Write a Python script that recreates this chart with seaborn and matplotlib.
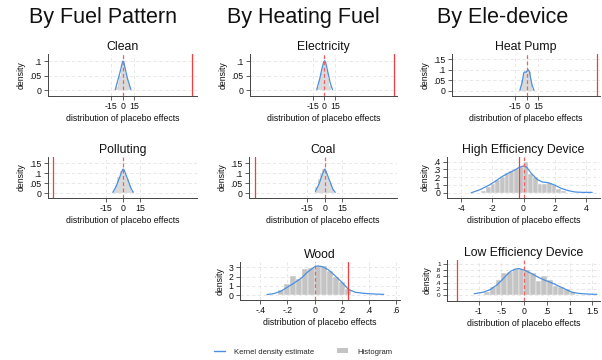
import numpy as np
import pandas as pd
import matplotlib
matplotlib.use("Agg")
import matplotlib.pyplot as plt
from matplotlib.lines import Line2D
from matplotlib.patches import Patch
import seaborn as sns

sns.set_theme(style="white")
plt.rcParams['font.family'] = ['Liberation Sans', 'DejaVu Sans']

# ---------------- data ----------------
column_titles = ["By Fuel Pattern", "By Heating Fuel", "By Ele-device"]

# Clean
clean_edges = [-9, -7, -5, -3, -1, 1, 3, 5, 7, 9]
clean_hist = [0.01, 0.03, 0.05, 0.07, 0.095, 0.09, 0.06, 0.04, 0.02]
clean_kx = [-10, -6, -3, -1, 0, 1, 3, 6, 10.5]
clean_ky = [0.002, 0.04, 0.07, 0.092, 0.1, 0.098, 0.075, 0.04, 0.002]
clean_actual = 91

# Polluting
poll_edges = [-9, -7, -5, -3, -1, 1, 3, 5, 7, 9]
poll_hist = [0.01, 0.04, 0.08, 0.11, 0.12, 0.1, 0.07, 0.04, 0.01]
poll_kx = [-9, -6, -3, -1, 0, 1, 3, 5, 7, 9]
poll_ky = [0.005, 0.035, 0.08, 0.11, 0.12, 0.115, 0.085, 0.055, 0.025, 0.005]
poll_actual = -62

# Electricity
elec_edges = [-9, -7, -5, -3, -1, 1, 3, 5, 7, 9]
elec_hist = [0.01, 0.035, 0.06, 0.08, 0.1, 0.095, 0.07, 0.04, 0.015]
elec_kx = [-10, -6, -3, -1, 0.5, 2, 5, 8, 11]
elec_ky = [0.002, 0.04, 0.075, 0.095, 0.102, 0.095, 0.06, 0.025, 0.002]
elec_actual = 93

# Coal
coal_edges = [-8, -6, -4, -2, 0, 2, 4, 6, 8]
coal_hist = [0.03, 0.07, 0.1, 0.12, 0.11, 0.08, 0.05, 0.02]
coal_kx = [-8, -5, -2, -0.5, 0, 1, 3, 5, 7, 9]
coal_ky = [0.01, 0.045, 0.095, 0.115, 0.12, 0.11, 0.08, 0.05, 0.02, 0.005]
coal_actual = -60

# Wood
wood_edges = [-0.27, -0.225, -0.18, -0.135, -0.09, -0.045, 0, 0.045, 0.09, 0.135, 0.18, 0.225, 0.27]
wood_hist = [0.5, 1.2, 2.1, 1.7, 2.8, 2.9, 3.1, 3.1, 2.6, 1.9, 1.4, 0.7]
wood_kx = [-0.35, -0.3, -0.25, -0.2, -0.15, -0.1, -0.05, 0, 0.025, 0.06, 0.1, 0.15, 0.2, 0.25, 0.3, 0.35, 0.4, 0.45, 0.51]
wood_ky = [0.05, 0.15, 0.4, 0.85, 1.3, 1.8, 2.5, 3.05, 3.15, 3.05, 2.75, 2.1, 1.4, 0.6, 0.3, 0.2, 0.14, 0.1, 0.07]
wood_actual = 0.25

# Heat Pump
hp_edges = [-9, -7, -5, -3, -1, 1, 3, 5, 7, 9]
hp_hist = [0.01, 0.05, 0.085, 0.09, 0.09, 0.1, 0.09, 0.05, 0.01]
hp_kx = [-9, -6, -4, -2.5, -1, 0.5, 2, 3.5, 5, 7, 9.5]
hp_ky = [0.002, 0.04, 0.085, 0.09, 0.088, 0.095, 0.1, 0.09, 0.06, 0.025, 0.002]
hp_actual = 91

# High Efficiency Device
hi_edges = [-2.7, -2.4, -2.1, -1.8, -1.5, -1.2, -0.9, -0.6, -0.3, 0, 0.3, 0.6, 0.9, 1.2, 1.5, 1.8, 2.1, 2.4, 2.7]
hi_hist = [0.03, 0.08, 0.12, 0.17, 0.2, 0.26, 0.28, 0.3, 0.33, 0.4, 0.24, 0.2, 0.12, 0.12, 0.13, 0.1, 0.05, 0.02]
hi_kx = [-3.35, -2.8, -2.2, -1.8, -1.45, -1.1, -0.8, -0.5, -0.25, 0, 0.2, 0.5, 0.9, 1.2, 1.6, 2, 2.4, 2.85, 3.3, 3.8, 4.4]
hi_ky = [0.002, 0.04, 0.1, 0.15, 0.2, 0.24, 0.27, 0.3, 0.33, 0.345, 0.33, 0.25, 0.17, 0.14, 0.13, 0.1, 0.06, 0.03, 0.012, 0.007, 0.007]
hi_actual = -0.3

# Low Efficiency Device
lo_edges = [-0.875, -0.75, -0.625, -0.5, -0.375, -0.25, -0.125, 0, 0.125, 0.25, 0.375, 0.5, 0.625, 0.75, 0.875, 1.0, 1.125]
lo_hist = [0.1, 0.25, 0.5, 0.7, 0.75, 0.85, 0.85, 0.8, 0.7, 0.45, 0.6, 0.5, 0.3, 0.25, 0.2, 0.1]
lo_kx = [-1.1, -0.9, -0.75, -0.6, -0.5, -0.4, -0.3, -0.2, -0.12, 0, 0.15, 0.3, 0.45, 0.6, 0.75, 0.9, 1.05, 1.2, 1.4, 1.6]
lo_ky = [0.05, 0.1, 0.18, 0.33, 0.47, 0.62, 0.76, 0.83, 0.85, 0.8, 0.7, 0.58, 0.48, 0.4, 0.3, 0.2, 0.1, 0.06, 0.04, 0.03]
lo_actual = -1.48

# tick values
big_xticks = [-15, 0, 15]
xt_hi = [-4, -2, 0, 2, 4]
xt_wood = [-0.4, -0.2, 0, 0.2, 0.4, 0.6]
xt_lo = [-1, -0.5, 0, 0.5, 1, 1.5]
yt_small = [0, 0.05, 0.1]
yt_mid = [0, 0.05, 0.1, 0.15]
yt_hi = [0, 0.1, 0.2, 0.3, 0.4]
yt_wood = [0, 1, 2, 3]
yt_lo = [0, 0.2, 0.4, 0.6, 0.8, 1]

# ---------------- styling ----------------
W, H = 602, 360
BLUE = "#4a90e2"
GREY = "#c4c4c4"
GREY_LIGHT = "#dadada"
RED = "#f53b3b"
RED_D = "#f26060"
AX_C = "#444444"
TICK_FS = 6.3

fig = plt.figure(figsize=(W / 100, H / 100), dpi=100)
fig.patch.set_facecolor("white")


def stata_fmt(v):
    if v == 0:
        return "0"
    s = ("%g" % v)
    if s.startswith("0."):
        s = s[1:]
    elif s.startswith("-0."):
        s = "-" + s[2:]
    return s


def panel(l, t, r, b, title, edges, hist, kx, ky, actual, xlim, ylim, xticks, yticks,
          small=False, ytick_fs=TICK_FS):
    ax = fig.add_axes([l / W, 1 - b / H, (r - l) / W, (b - t) / H])
    centers = [(edges[i] + edges[i + 1]) / 2 for i in range(len(hist))]
    df = pd.DataFrame({"x": centers, "w": hist})
    if small:
        sns.histplot(data=df, x="x", weights="w", bins=edges, ax=ax, color=GREY_LIGHT,
                     edgecolor="none", linewidth=0, alpha=1, zorder=2)
    else:
        sns.histplot(data=df, x="x", weights="w", bins=edges, ax=ax, color=GREY,
                     edgecolor="white", linewidth=0.3, alpha=1, zorder=2)
    kd = pd.DataFrame({"x": kx, "y": ky})
    sns.lineplot(data=kd, x="x", y="y", ax=ax, color=BLUE, lw=0.9, zorder=4)
    ax.axvline(0, color=RED_D, lw=0.9, ls=(0, (3, 2)), zorder=5)
    ax.axvline(actual, color=RED, lw=0.9, zorder=5)
    ax.set_xlim(*xlim)
    ax.set_ylim(*ylim)
    ax.set_xticks(xticks)
    ax.set_yticks(yticks)
    ax.set_xticklabels([stata_fmt(v) for v in xticks], fontsize=TICK_FS)
    ax.set_yticklabels([stata_fmt(v) for v in yticks], fontsize=ytick_fs)
    ax.grid(True, color="#e4e4e4", ls=(0, (4, 3)), lw=0.6, zorder=0)
    ax.set_axisbelow(True)
    for s in ["top", "right"]:
        ax.spines[s].set_visible(False)
    for s in ["left", "bottom"]:
        ax.spines[s].set_color(AX_C)
        ax.spines[s].set_linewidth(0.7)
    ax.tick_params(axis="both", direction="out", length=3, width=0.6, color=AX_C,
                   pad=1.5, labelcolor="#111111", left=True, bottom=True)
    ax.set_title(title, fontsize=8.8, pad=3, color="#111111")
    ax.set_xlabel("distribution of placebo effects", fontsize=6.3, labelpad=2, color="#111111")
    ax.set_ylabel("density", fontsize=6.3, labelpad=3, color="#111111")
    ax.set_facecolor("white")
    return ax


panel(48, 54, 197, 96, "Clean", clean_edges, clean_hist, clean_kx, clean_ky, clean_actual,
      (-98, 97), (-0.02, 0.125), big_xticks, yt_small, small=True)
panel(250, 54, 397, 96, "Electricity", elec_edges, elec_hist, elec_kx, elec_ky, elec_actual,
      (-99, 97), (-0.02, 0.125), big_xticks, yt_small, small=True)
panel(452, 54, 600, 96, "Heat Pump", hp_edges, hp_hist, hp_kx, hp_ky, hp_actual,
      (-97, 95), (-0.025, 0.175), big_xticks, yt_mid, small=True)
panel(48, 157, 197, 198, "Polluting", poll_edges, poll_hist, poll_kx, poll_ky, poll_actual,
      (-66, 65), (-0.023, 0.18), big_xticks, yt_mid, small=True)
panel(249, 157, 397, 198, "Coal", coal_edges, coal_hist, coal_kx, coal_ky, coal_actual,
      (-65, 62), (-0.023, 0.18), big_xticks, yt_mid, small=True)
panel(447, 157, 600, 198, "High Efficiency Device", hi_edges, hi_hist, hi_kx, hi_ky, hi_actual,
      (-4.9, 4.9), (-0.065, 0.46), xt_hi, yt_hi)
panel(240, 262, 400, 300, "Wood", wood_edges, wood_hist, wood_kx, wood_ky, wood_actual,
      (-0.55, 0.63), (-0.54, 3.57), xt_wood, yt_wood)
panel(447, 260, 600, 301, "Low Efficiency Device", lo_edges, lo_hist, lo_kx, lo_ky, lo_actual,
      (-1.7, 1.67), (-0.18, 1.12), xt_lo, yt_lo, ytick_fs=4.6)

# column headers
for cx, txt in zip([103, 303, 503], column_titles):
    fig.text(cx / W, 1 - 18 / H, txt, ha="center", va="center", fontsize=15.5, color="#111111")

# legend
handles = [Line2D([0], [0], color=BLUE, lw=1.0), Patch(facecolor=GREY, edgecolor="none")]
fig.legend(handles, ["Kernel density estimate", "Histogram"], loc="center",
           bbox_to_anchor=(303 / W, 1 - 352 / H), ncol=2, frameon=False, fontsize=5.5,
           handlelength=1.4, handleheight=0.6, handletextpad=1.2, columnspacing=3.0)

fig.savefig("out.png", dpi=100, facecolor="white")
